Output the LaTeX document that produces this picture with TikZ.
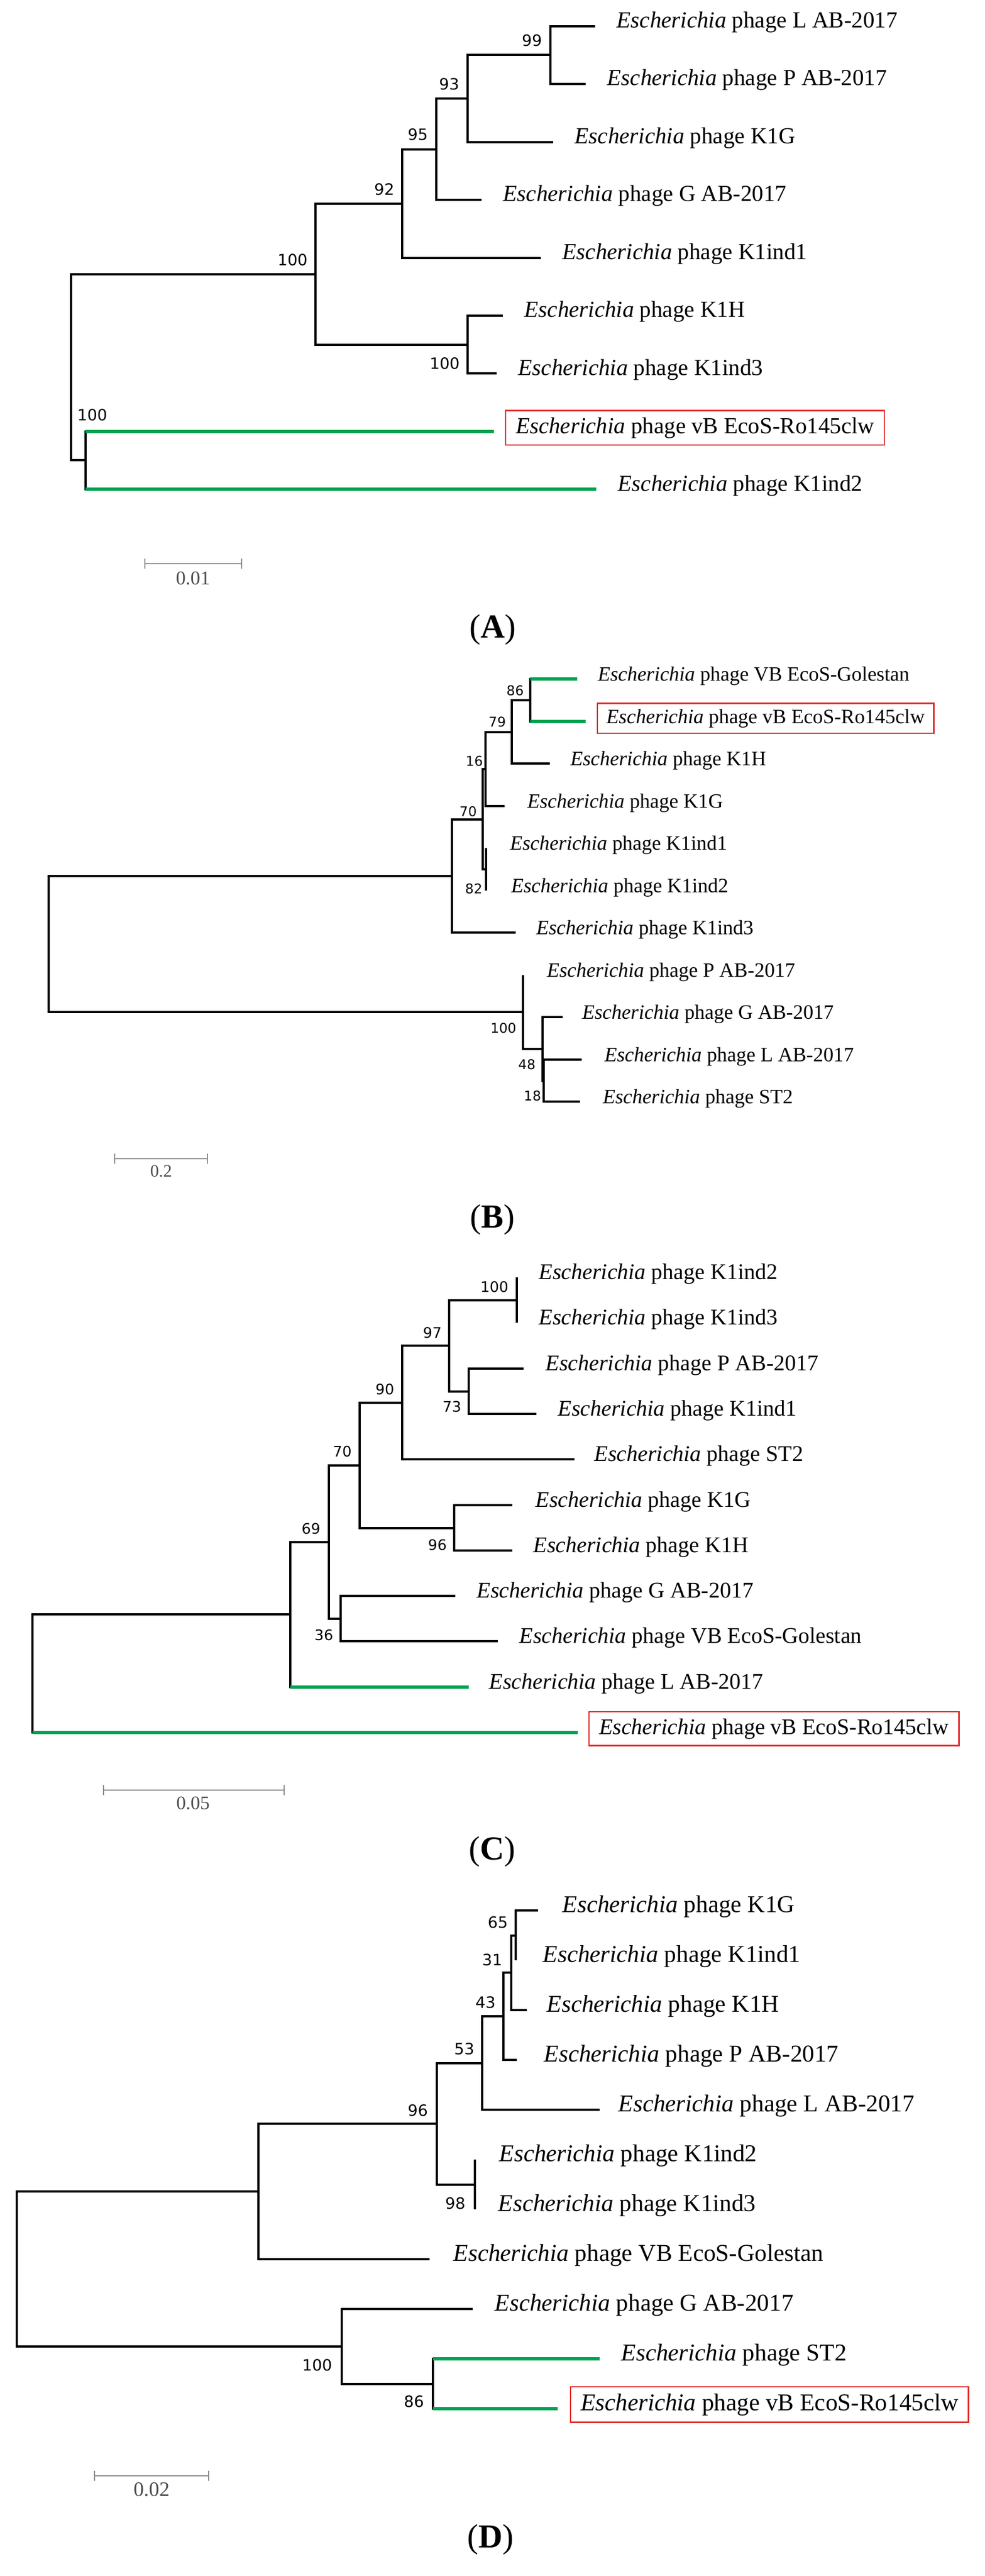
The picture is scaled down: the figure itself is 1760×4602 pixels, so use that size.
\documentclass[tikz,border=0pt]{standalone}
\usepackage{fontspec}
\setmainfont{Liberation Serif}
\newfontfamily\bootfont{DejaVu Sans}
\usetikzlibrary{calc}

\definecolor{treegreen}{RGB}{0,163,82}
\definecolor{boxred}{RGB}{226,44,44}
\newcommand{\ephage}[1]{\textit{Escherichia} phage #1}

\tikzset{
  branch/.style={line width=1pt, black},
  gbranch/.style={line width=1.7pt, treegreen},
  leaf/.style={anchor=base west, inner sep=0pt},
  hostbox/.style={anchor=base west, draw=boxred, line width=0.6pt, inner xsep=4.5pt, inner ysep=3pt},
  boot/.style={inner sep=0pt},
  scalebar/.style={line width=0.45pt, black!45},
  scaletext/.style={inner sep=0pt, text=black!70},
  panel/.style={inner sep=0pt, font=\fontsize{15}{18}\selectfont},
}

\begin{document}
\begin{tikzpicture}[x=0.25pt, y=-0.25pt]
\useasboundingbox (0,0) rectangle (1760,4602);

% (A)
\begin{scope}[leaf/.append style={font=\fontsize{10.25}{12}\selectfont},
  hostbox/.append style={font=\fontsize{10.25}{12}\selectfont},
  boot/.append style={font=\bootfont\fontsize{7}{8}\selectfont}]
  \coordinate (aRoot) at (127,656);
  \coordinate (a100) at (564,490);
  \coordinate (a92) at (719,364);
  \coordinate (a95) at (780,267);
  \coordinate (a93) at (836,176);
  \coordinate (a99) at (984,98.5);
  \coordinate (a100h) at (836,616);
  \coordinate (a100b) at (153,822);
  % tips
  \coordinate (aL) at (1064,47);
  \coordinate (aP) at (1047,150);
  \coordinate (aK1G) at (989,254);
  \coordinate (aG) at (861,357);
  \coordinate (aK1ind1) at (967,461);
  \coordinate (aK1H) at (899,564);
  \coordinate (aK1ind3) at (888,667);
  \coordinate (aVB) at (883,771);
  \coordinate (aK1ind2) at (1066,874);

  \draw[branch] (aRoot) |- (a100) (aRoot) |- (a100b);
  \draw[branch] (a100) |- (a92) (a100) |- (a100h);
  \draw[branch] (a92) |- (a95) (a92) |- (aK1ind1);
  \draw[branch] (a95) |- (a93) (a95) |- (aG);
  \draw[branch] (a93) |- (a99) (a93) |- (aK1G);
  \draw[branch] (a99) |- (aL) (a99) |- (aP);
  \draw[branch] (a100h) |- (aK1H) (a100h) |- (aK1ind3);
  \draw[branch] (a100b) |- (aVB) (a100b) |- (aK1ind2);
  \draw[gbranch] (a100b |- aVB) -- (aVB);
  \draw[gbranch] (a100b |- aK1ind2) -- (aK1ind2);

  \node[leaf] (aLt) at ([shift={(38,3)}]aL) {\ephage{L AB-2017}};
  \node[leaf] (aPt) at ([shift={(38,3)}]aP) {\ephage{P AB-2017}};
  \node[leaf] (aK1Gt) at ([shift={(38,3)}]aK1G) {\ephage{K1G}};
  \node[leaf] (aGt) at ([shift={(38,3)}]aG) {\ephage{G AB-2017}};
  \node[leaf] (aK1ind1t) at ([shift={(38,3)}]aK1ind1) {\ephage{K1ind1}};
  \node[leaf] (aK1Ht) at ([shift={(38,3)}]aK1H) {\ephage{K1H}};
  \node[leaf] (aK1ind3t) at ([shift={(38,3)}]aK1ind3) {\ephage{K1ind3}};
  \node[hostbox] (aVBt) at ([shift={(20,3)}]aVB) {\ephage{vB EcoS-Ro145clw}};
  \node[leaf] (aK1ind2t) at ([shift={(38,3)}]aK1ind2) {\ephage{K1ind2}};

  \node[boot] (a99n) at (951,72) {99};
  \node[boot] (a93n) at (803,150) {93};
  \node[boot] (a95n) at (747,240) {95};
  \node[boot] (a92n) at (687,338) {92};
  \node[boot] (a100n) at (523,464) {100};
  \node[boot] (a100hn) at (795,649) {100};
  \node[boot] (a100bn) at (165,741) {100};

  \coordinate (aS1) at (259,1007);
  \coordinate (aS2) at (432,1007);
  \draw[scalebar] (aS1) -- (aS2) ([yshift=2.2pt]aS1) -- ([yshift=-2.2pt]aS1) ([yshift=2.2pt]aS2) -- ([yshift=-2.2pt]aS2);
  \node[scaletext, font=\fontsize{8.7}{10}\selectfont] (aSt) at (345,1033) {0.01};
  \node[panel] (aTag) at (881,1125) {(\textbf{A})};
\end{scope}

% (B)
\begin{scope}[leaf/.append style={font=\fontsize{9.1}{11}\selectfont},
  hostbox/.append style={font=\fontsize{9.1}{11}\selectfont, inner xsep=4pt, inner ysep=2.6pt},
  boot/.append style={font=\bootfont\fontsize{6}{7}\selectfont}]
  \coordinate (bRoot) at (87,1686.5);
  \coordinate (bU) at (808,1565);
  \coordinate (bX) at (863,1463.5);
  \coordinate (b16) at (868,1374);
  \coordinate (b79) at (915,1307.5);
  \coordinate (b86) at (948,1251);
  \coordinate (b82) at (869,1553);
  \coordinate (b100) at (935,1808);
  \coordinate (b48) at (970,1874);
  \coordinate (b18) at (972,1930.5);
  % tips
  \coordinate (bGol) at (1032,1213);
  \coordinate (bVB) at (1047,1289);
  \coordinate (bK1H) at (983,1364);
  \coordinate (bK1G) at (902,1440);
  \coordinate (bK1ind1) at (869,1515);
  \coordinate (bK1ind2) at (869,1591);
  \coordinate (bK1ind3) at (922,1666);
  \coordinate (bP) at (935,1742);
  \coordinate (bG) at (1006,1817);
  \coordinate (bL) at (1040,1893);
  \coordinate (bST2) at (1037,1968);

  \draw[branch] (bRoot) |- (bU) (bRoot) |- (b100);
  \draw[branch] (bU) |- (bX) (bU) |- (bK1ind3);
  \draw[branch] (bX) |- (b16) (bX) |- (b82);
  \draw[branch] (b16) |- (b79) (b16) |- (bK1G);
  \draw[branch] (b79) |- (b86) (b79) |- (bK1H);
  \draw[branch] (b86) |- (bGol) (b86) |- (bVB);
  \draw[branch] (b82) |- (bK1ind1) (b82) |- (bK1ind2);
  \draw[branch] (b100) |- (bP) (b100) |- (b48);
  \draw[branch] (b48) |- (bG) (b48) |- (b18);
  \draw[branch] (b18) |- (bL) (b18) |- (bST2);
  \draw[gbranch] (b86 |- bGol) -- (bGol);
  \draw[gbranch] (b86 |- bVB) -- (bVB);

  \node[leaf] (bGolt) at ([shift={(36,3)}]bGol) {\ephage{VB EcoS-Golestan}};
  \node[hostbox] (bVBt) at ([shift={(20,3)}]bVB) {\ephage{vB EcoS-Ro145clw}};
  \node[leaf] (bK1Ht) at ([shift={(36,3)}]bK1H) {\ephage{K1H}};
  \node[leaf] (bK1Gt) at ([shift={(40,3)}]bK1G) {\ephage{K1G}};
  \node[leaf] (bK1ind1t) at ([shift={(42,3)}]bK1ind1) {\ephage{K1ind1}};
  \node[leaf] (bK1ind2t) at ([shift={(44,3)}]bK1ind2) {\ephage{K1ind2}};
  \node[leaf] (bK1ind3t) at ([shift={(36,3)}]bK1ind3) {\ephage{K1ind3}};
  \node[leaf] (bPt) at ([shift={(42,3)}]bP) {\ephage{P AB-2017}};
  \node[leaf] (bGt) at ([shift={(34,3)}]bG) {\ephage{G AB-2017}};
  \node[leaf] (bLt) at ([shift={(40,3)}]bL) {\ephage{L AB-2017}};
  \node[leaf] (bST2t) at ([shift={(40,3)}]bST2) {\ephage{ST2}};

  \node[boot] (b86n) at (921,1234) {86};
  \node[boot] (b79n) at (889,1290) {79};
  \node[boot] (b16n) at (848,1360) {16};
  \node[boot] (b70n) at (837,1450) {70};
  \node[boot] (b82n) at (847,1588) {82};
  \node[boot] (b100n) at (900,1837) {100};
  \node[boot] (b48n) at (942,1902) {48};
  \node[boot] (b18n) at (952,1958) {18};

  \coordinate (bS1) at (205,2070);
  \coordinate (bS2) at (371,2070);
  \draw[scalebar] (bS1) -- (bS2) ([yshift=2.2pt]bS1) -- ([yshift=-2.2pt]bS1) ([yshift=2.2pt]bS2) -- ([yshift=-2.2pt]bS2);
  \node[scaletext, font=\fontsize{7.8}{9}\selectfont] (bSt) at (288,2092) {0.2};
  \node[panel] (bTag) at (880,2179) {(\textbf{B})};
\end{scope}

% (C)
\begin{scope}[leaf/.append style={font=\fontsize{10}{12}\selectfont},
  hostbox/.append style={font=\fontsize{10}{12}\selectfont},
  boot/.append style={font=\bootfont\fontsize{6.5}{8}\selectfont}]
  \coordinate (cRoot) at (58,2989.5);
  \coordinate (cL0) at (519,2884);
  \coordinate (c69) at (588,2754.5);
  \coordinate (c70) at (643,2617.5);
  \coordinate (c90) at (719,2505.5);
  \coordinate (c97) at (803,2404);
  \coordinate (c100) at (924,2322.5);
  \coordinate (c73) at (838,2485.5);
  \coordinate (c96) at (812,2729.5);
  \coordinate (c36) at (609,2891.5);
  % tips
  \coordinate (cK1ind2) at (924,2282);
  \coordinate (cK1ind3) at (924,2363);
  \coordinate (cP) at (936,2445);
  \coordinate (cK1ind1) at (959,2526);
  \coordinate (cST2) at (1027,2607);
  \coordinate (cK1G) at (916,2689);
  \coordinate (cK1H) at (916,2770);
  \coordinate (cG) at (814,2851);
  \coordinate (cGol) at (890,2932);
  \coordinate (cL) at (838,3014);
  \coordinate (cVB) at (1033,3095);

  \draw[branch] (cRoot) |- (cL0) (cRoot) |- (cVB);
  \draw[branch] (cL0) |- (c69) (cL0) |- (cL);
  \draw[branch] (c69) |- (c70) (c69) |- (c36);
  \draw[branch] (c70) |- (c90) (c70) |- (c96);
  \draw[branch] (c90) |- (c97) (c90) |- (cST2);
  \draw[branch] (c97) |- (c100) (c97) |- (c73);
  \draw[branch] (c100) |- (cK1ind2) (c100) |- (cK1ind3);
  \draw[branch] (c73) |- (cP) (c73) |- (cK1ind1);
  \draw[branch] (c96) |- (cK1G) (c96) |- (cK1H);
  \draw[branch] (c36) |- (cG) (c36) |- (cGol);
  \draw[gbranch] (cL0 |- cL) -- (cL);
  \draw[gbranch] (cRoot |- cVB) -- (cVB);

  \node[leaf] (cK1ind2t) at ([shift={(39,3)}]cK1ind2) {\ephage{K1ind2}};
  \node[leaf] (cK1ind3t) at ([shift={(39,3)}]cK1ind3) {\ephage{K1ind3}};
  \node[leaf] (cPt) at ([shift={(39,3)}]cP) {\ephage{P AB-2017}};
  \node[leaf] (cK1ind1t) at ([shift={(38,3)}]cK1ind1) {\ephage{K1ind1}};
  \node[leaf] (cST2t) at ([shift={(35,3)}]cST2) {\ephage{ST2}};
  \node[leaf] (cK1Gt) at ([shift={(41,3)}]cK1G) {\ephage{K1G}};
  \node[leaf] (cK1Ht) at ([shift={(37,3)}]cK1H) {\ephage{K1H}};
  \node[leaf] (cGt) at ([shift={(38,3)}]cG) {\ephage{G AB-2017}};
  \node[leaf] (cGolt) at ([shift={(38,3)}]cGol) {\ephage{VB EcoS-Golestan}};
  \node[leaf] (cLt) at ([shift={(36,3)}]cL) {\ephage{L AB-2017}};
  \node[hostbox] (cVBt) at ([shift={(19,3)}]cVB) {\ephage{vB EcoS-Ro145clw}};

  \node[boot] (c100n) at (884,2299) {100};
  \node[boot] (c97n) at (773,2381) {97};
  \node[boot] (c90n) at (688,2482) {90};
  \node[boot] (c73n) at (808,2513) {73};
  \node[boot] (c70n) at (612,2593) {70};
  \node[boot] (c96n) at (782,2760) {96};
  \node[boot] (c69n) at (556,2731) {69};
  \node[boot] (c36n) at (579,2921) {36};

  \coordinate (cS1) at (185,3198);
  \coordinate (cS2) at (508,3198);
  \draw[scalebar] (cS1) -- (cS2) ([yshift=2.2pt]cS1) -- ([yshift=-2.2pt]cS1) ([yshift=2.2pt]cS2) -- ([yshift=-2.2pt]cS2);
  \node[scaletext, font=\fontsize{8.5}{10}\selectfont] (cSt) at (345,3221) {0.05};
  \node[panel] (cTag) at (880,3308) {(\textbf{C})};
\end{scope}

% (D)
\begin{scope}[leaf/.append style={font=\fontsize{10.8}{13}\selectfont},
  hostbox/.append style={font=\fontsize{10.8}{13}\selectfont},
  boot/.append style={font=\bootfont\fontsize{7}{8}\selectfont}]
  \coordinate (dRoot) at (30,4053.5);
  \coordinate (dU) at (462,3915);
  \coordinate (d96) at (781,3794);
  \coordinate (d53) at (862,3685.5);
  \coordinate (d43) at (900,3602);
  \coordinate (d31) at (914,3524);
  \coordinate (d65) at (922,3457.5);
  \coordinate (d98) at (849,3902.5);
  \coordinate (d100) at (611,4192);
  \coordinate (d86) at (774,4258.5);
  % tips
  \coordinate (dK1G) at (962,3413);
  \coordinate (dK1ind1) at (922,3502);
  \coordinate (dK1H) at (942,3591);
  \coordinate (dP) at (924,3680);
  \coordinate (dL) at (1072,3769);
  \coordinate (dK1ind2) at (849,3858);
  \coordinate (dK1ind3) at (849,3947);
  \coordinate (dGol) at (768,4036);
  \coordinate (dG) at (845,4125);
  \coordinate (dST2) at (1072,4214);
  \coordinate (dVB) at (997,4303);

  \draw[branch] (dRoot) |- (dU) (dRoot) |- (d100);
  \draw[branch] (dU) |- (d96) (dU) |- (dGol);
  \draw[branch] (d96) |- (d53) (d96) |- (d98);
  \draw[branch] (d53) |- (d43) (d53) |- (dL);
  \draw[branch] (d43) |- (d31) (d43) |- (dP);
  \draw[branch] (d31) |- (d65) (d31) |- (dK1H);
  \draw[branch] (d65) |- (dK1G) (d65) |- (dK1ind1);
  \draw[branch] (d98) |- (dK1ind2) (d98) |- (dK1ind3);
  \draw[branch] (d100) |- (dG) (d100) |- (d86);
  \draw[branch] (d86) |- (dST2) (d86) |- (dVB);
  \draw[gbranch] (d86 |- dST2) -- (dST2);
  \draw[gbranch] (d86 |- dVB) -- (dVB);

  \node[leaf] (dK1Gt) at ([shift={(43,3)}]dK1G) {\ephage{K1G}};
  \node[leaf] (dK1ind1t) at ([shift={(48,3)}]dK1ind1) {\ephage{K1ind1}};
  \node[leaf] (dK1Ht) at ([shift={(35,3)}]dK1H) {\ephage{K1H}};
  \node[leaf] (dPt) at ([shift={(48,3)}]dP) {\ephage{P AB-2017}};
  \node[leaf] (dLt) at ([shift={(33,3)}]dL) {\ephage{L AB-2017}};
  \node[leaf] (dK1ind2t) at ([shift={(43,3)}]dK1ind2) {\ephage{K1ind2}};
  \node[leaf] (dK1ind3t) at ([shift={(41,3)}]dK1ind3) {\ephage{K1ind3}};
  \node[leaf] (dGolt) at ([shift={(42,3)}]dGol) {\ephage{VB EcoS-Golestan}};
  \node[leaf] (dGt) at ([shift={(39,3)}]dG) {\ephage{G AB-2017}};
  \node[leaf] (dST2t) at ([shift={(38,3)}]dST2) {\ephage{ST2}};
  \node[hostbox] (dVBt) at ([shift={(22,3)}]dVB) {\ephage{vB EcoS-Ro145clw}};

  \node[boot] (d65n) at (890,3434) {65};
  \node[boot] (d31n) at (880,3501) {31};
  \node[boot] (d43n) at (868,3577) {43};
  \node[boot] (d53n) at (830,3660) {53};
  \node[boot] (d96n) at (747,3770) {96};
  \node[boot] (d98n) at (814,3936) {98};
  \node[boot] (d100n) at (567,4225) {100};
  \node[boot] (d86n) at (740,4290) {86};

  \coordinate (dS1) at (169,4423);
  \coordinate (dS2) at (373,4423);
  \draw[scalebar] (dS1) -- (dS2) ([yshift=2.2pt]dS1) -- ([yshift=-2.2pt]dS1) ([yshift=2.2pt]dS2) -- ([yshift=-2.2pt]dS2);
  \node[scaletext, font=\fontsize{9.2}{11}\selectfont] (dSt) at (271,4447) {0.02};
  \node[panel] (dTag) at (877,4537) {(\textbf{D})};
\end{scope}
\end{tikzpicture}
\end{document}
